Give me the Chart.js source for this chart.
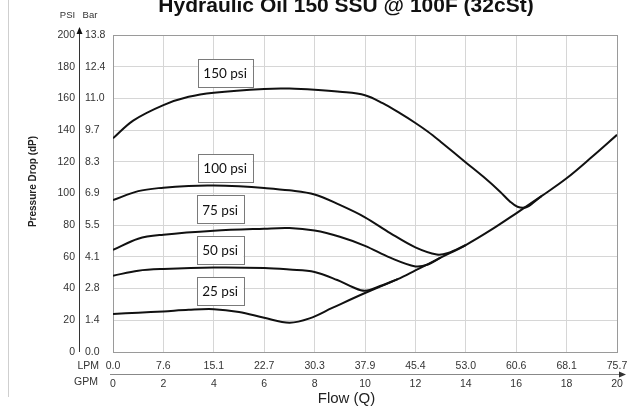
<!DOCTYPE html>
<html>
<head>
<meta charset="utf-8">
<script src="https://cdn.jsdelivr.net/npm/chart.js@4"></script>
<style>
  body { margin: 0; background: #fff; }
  canvas { display: block; }
</style>
</head>
<body>
<canvas id="chart" width="631" height="407"></canvas>
<script>
// ticks
const gpmTicks = [0, 2, 4, 6, 8, 10, 12, 14, 16, 18, 20];
const lpmTicks = ['0.0', '7.6', '15.1', '22.7', '30.3', '37.9', '45.4', '53.0', '60.6', '68.1', '75.7'];
const psiTicks = [0, 20, 40, 60, 80, 100, 120, 140, 160, 180, 200];
const barTicks = ['0.0', '1.4', '2.8', '4.1', '5.5', '6.9', '8.3', '9.7', '11.0', '12.4', '13.8'];

// curves (flow in GPM, pressure drop in PSI)
const flow25 = [0, 1, 2, 3, 4, 5, 6, 7, 7.8, 8.7, 10, 11.3, 12, 13, 14, 15, 16, 17, 18, 19, 20];
const psi25  = [24, 24.8, 25.6, 26.6, 27, 25.2, 21.6, 18.5, 21.2, 27.8, 37.2, 46, 51.5, 59.5, 67.5, 77, 87.5, 98.3, 109.6, 123, 137];

const flow50 = [0, 1, 2, 4, 6, 7, 8, 8.9, 9.5, 10, 10.6, 11.3];
const psi50  = [48.1, 51.3, 52.4, 53.3, 53, 52, 50.5, 45.4, 41, 38.6, 41.6, 46];

const flow75 = [0, 1, 2, 4, 6, 7, 8, 9, 10, 11, 12, 12.5, 13];
const psi75  = [64.4, 71.5, 74, 76.5, 77.8, 78.2, 76.6, 72.7, 67, 59.5, 54, 55.2, 59.5];

const flow100 = [0, 1, 2, 3, 4, 5, 6, 7, 8, 9, 10, 11, 12, 12.85, 13.3, 14];
const psi100  = [95.8, 101.5, 103.7, 104.8, 105, 104.5, 103.5, 102, 99.4, 92.8, 85, 75, 66, 61.5, 62.5, 67.5];

const flow150 = [0, 0.8, 2, 3, 4, 6, 7, 8, 9, 10, 10.7, 11.4, 12, 12.5, 13, 14, 14.7, 15.35, 15.75, 16.05, 16.4, 16.7, 17];
const psi150  = [134.8, 146, 155.8, 161, 163.6, 166, 166.2, 165.5, 164.2, 162, 157, 150.5, 144.5, 139, 132.7, 119.6, 110.5, 101.3, 95, 91.6, 91.3, 94.5, 98.3];

// curve labels
const labelText = ['150 psi', '100 psi', '75 psi', '50 psi', '25 psi'];
const labelFlow = [4.45, 4.45, 4.25, 4.25, 4.25];
const labelPsi  = [176, 116, 90, 64.5, 38.5];

function pts(xs, ys) {
    return xs.map((x, i) => ({ x: x, y: ys[i] }));
}

function curve(xs, ys) {
    return {
        data: pts(xs, ys),
        borderColor: '#111',
        borderWidth: 2,
        pointRadius: 0,
        fill: false,
        tension: 0.35
    };
}

const FONT = '"Liberation Sans", Arial, sans-serif';

const decor = {
    id: 'decor',
    beforeDatasetsDraw(chart) {
        const ctx = chart.ctx;
        const a = chart.chartArea;
        ctx.save();
        ctx.strokeStyle = '#9a9a9a';
        ctx.lineWidth = 1;
        ctx.strokeRect(a.left + 0.5, a.top + 0.5, a.right - a.left, a.bottom - a.top);
        ctx.restore();
    },
    afterDraw(chart) {
        const ctx = chart.ctx;
        const xs = chart.scales.x, ys = chart.scales.y;
        const a = chart.chartArea;
        ctx.save();

        // page edge line
        ctx.strokeStyle = '#cfcfcf';
        ctx.lineWidth = 1;
        ctx.beginPath();
        ctx.moveTo(8.5, 0);
        ctx.lineTo(8.5, 397);
        ctx.stroke();

        // title
        ctx.fillStyle = '#111';
        ctx.font = 'bold 21px ' + FONT;
        ctx.textAlign = 'center';
        ctx.textBaseline = 'alphabetic';
        ctx.fillText('Hydraulic Oil 150 SSU @ 100F (32cSt)', 346, 11.5);

        // y arrow axis
        const axX = a.left - 34;
        ctx.strokeStyle = '#333';
        ctx.lineWidth = 1;
        ctx.beginPath();
        ctx.moveTo(axX + 0.5, a.bottom);
        ctx.lineTo(axX + 0.5, a.top - 3);
        ctx.stroke();
        ctx.fillStyle = '#111';
        ctx.beginPath();
        ctx.moveTo(axX + 0.5, a.top - 8);
        ctx.lineTo(axX + 3.5, a.top - 1);
        ctx.lineTo(axX - 2.5, a.top - 1);
        ctx.closePath();
        ctx.fill();

        // y tick labels
        ctx.fillStyle = '#333';
        ctx.font = '10.5px ' + FONT;
        ctx.textBaseline = 'middle';
        psiTicks.forEach((v, i) => {
            const py = ys.getPixelForValue(v);
            ctx.textAlign = 'right';
            ctx.fillText(String(v), a.left - 38, py);
            ctx.textAlign = 'left';
            ctx.fillText(barTicks[i], a.left - 28, py);
        });
        ctx.font = '9.5px ' + FONT;
        ctx.textAlign = 'center';
        ctx.fillText('PSI', 67.5, 15);
        ctx.fillText('Bar', 90, 15);

        // y title
        ctx.save();
        ctx.translate(33, (a.top + a.bottom) / 2 - 12);
        ctx.rotate(-Math.PI / 2);
        ctx.font = 'bold 10px ' + FONT;
        ctx.fillStyle = '#222';
        ctx.textAlign = 'center';
        ctx.textBaseline = 'middle';
        ctx.fillText('Pressure Drop (dP)', 0, 0);
        ctx.restore();

        // x arrow axis
        const axY = a.bottom + 22;
        ctx.strokeStyle = '#888';
        ctx.beginPath();
        ctx.moveTo(a.left - 3, axY + 0.5);
        ctx.lineTo(a.right + 4, axY + 0.5);
        ctx.stroke();
        ctx.fillStyle = '#333';
        ctx.beginPath();
        ctx.moveTo(a.right + 9, axY + 0.5);
        ctx.lineTo(a.right + 2, axY - 2.5);
        ctx.lineTo(a.right + 2, axY + 3.5);
        ctx.closePath();
        ctx.fill();

        // x tick labels
        ctx.fillStyle = '#333';
        ctx.font = '10.5px ' + FONT;
        ctx.textAlign = 'center';
        ctx.textBaseline = 'middle';
        gpmTicks.forEach((v, i) => {
            const px = xs.getPixelForValue(v);
            ctx.fillText(lpmTicks[i], px, a.bottom + 14);
            ctx.fillText(String(v), px, a.bottom + 32);
        });
        ctx.textAlign = 'right';
        ctx.fillText('LPM', a.left - 14, a.bottom + 14);
        ctx.fillText('GPM', a.left - 15, a.bottom + 30);

        // x title
        ctx.font = '15px ' + FONT;
        ctx.fillStyle = '#222';
        ctx.textAlign = 'center';
        ctx.textBaseline = 'alphabetic';
        ctx.fillText('Flow (Q)', 346.5, 403);

        // curve label boxes
        ctx.font = '13.5px Lato, "Open Sans", sans-serif';
        ctx.textBaseline = 'middle';
        labelText.forEach((t, i) => {
            const cx = xs.getPixelForValue(labelFlow[i]);
            const cy = ys.getPixelForValue(labelPsi[i]);
            const w = ctx.measureText(t).width + 11;
            const h = 28;
            ctx.fillStyle = '#fff';
            ctx.fillRect(cx - w / 2, cy - h / 2, w, h);
            ctx.strokeStyle = '#7a7a7a';
            ctx.lineWidth = 1;
            ctx.strokeRect(Math.round(cx - w / 2) + 0.5, Math.round(cy - h / 2) + 0.5, Math.round(w), h);
            ctx.fillStyle = '#111';
            ctx.textAlign = 'center';
            ctx.fillText(t, cx, cy + 1);
        });

        ctx.restore();
    }
};

new Chart(document.getElementById('chart'), {
    type: 'line',
    data: {
        datasets: [
            curve(flow25, psi25),
            curve(flow50, psi50),
            curve(flow75, psi75),
            curve(flow100, psi100),
            curve(flow150, psi150)
        ]
    },
    options: {
        responsive: false,
        animation: false,
        devicePixelRatio: 1,
        layout: { padding: { left: 113, right: 14, top: 35, bottom: 55 } },
        plugins: {
            legend: { display: false },
            tooltip: { enabled: false }
        },
        scales: {
            x: {
                type: 'linear',
                min: 0,
                max: 20,
                ticks: { display: false, stepSize: 2 },
                grid: { color: '#d6d6d6', drawTicks: false },
                border: { display: false }
            },
            y: {
                min: 0,
                max: 200,
                ticks: { display: false, stepSize: 20 },
                grid: { color: '#d6d6d6', drawTicks: false },
                border: { display: false }
            }
        }
    },
    plugins: [decor]
});
</script>
</body>
</html>
